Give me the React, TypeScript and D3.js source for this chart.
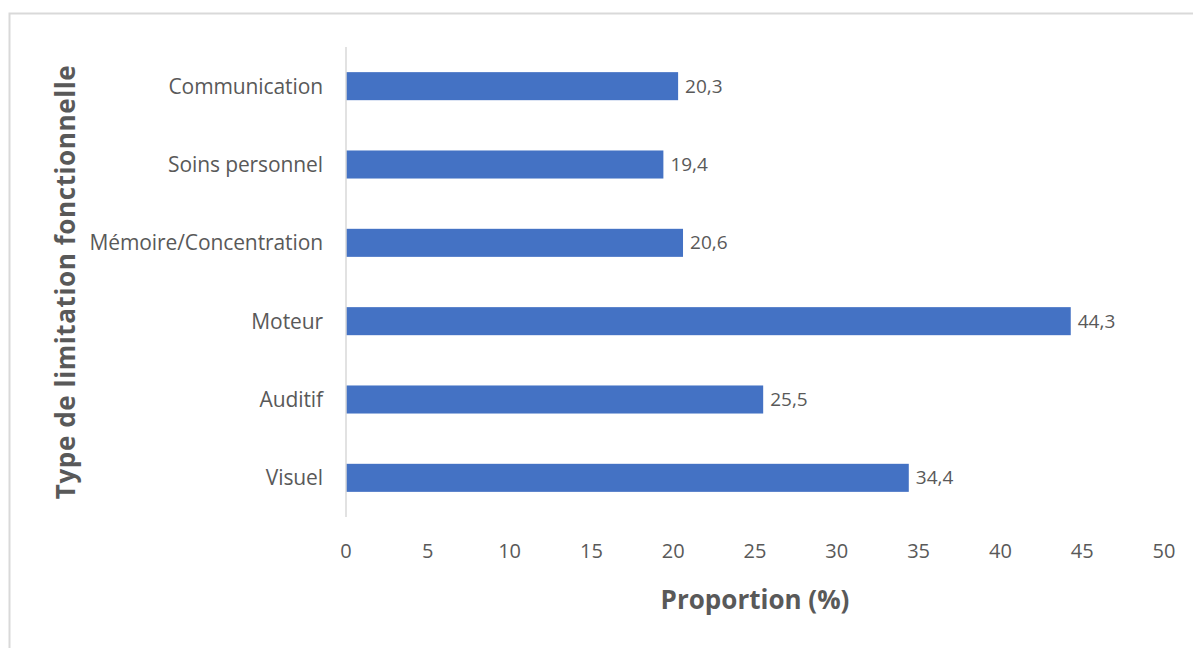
import React from "react";
import * as d3 from "d3";

const categories = ["Communication", "Soins personnel", "Mémoire/Concentration", "Moteur", "Auditif", "Visuel"];
const values = [20.3, 19.4, 20.6, 44.3, 25.5, 34.4];
const xTicks = [0, 5, 10, 15, 20, 25, 30, 35, 40, 45, 50];
const xTitle = "Proportion (%)";
const yTitle = "Type de limitation fonctionnelle";

const W = 1193;
const H = 648;
const FONT = "'Open Sans', 'Noto Sans', sans-serif";
const TEXT = "#595959";

export default function App() {
  const x = d3.scaleLinear().domain([0, 50]).range([346, 1164]);
  const y = d3.scaleBand().domain(categories).range([47, 517]).paddingInner(0.642).paddingOuter(0.321);
  const fmt = (v: number) => v.toFixed(1).replace(".", ",");
  return (
    <svg width={W} height={H} style={{ position: "absolute", left: 0, top: 0, background: "#fff" }}>
      <rect x={9.5} y={13.5} width={W} height={H} fill="#fff" stroke="#d9d9d9" strokeWidth={2} />
      {categories.map((c, i) => (
        <g key={c}>
          <rect x={x(0)} y={y(c)!} width={x(values[i]) - x(0)} height={y.bandwidth()} fill="#4472C4" />
          <text x={x(values[i]) + 7} y={y(c)! + y.bandwidth() / 2} dy="0.35em" fontFamily={FONT} fontSize={19} fill={TEXT}>
            {fmt(values[i])}
          </text>
          <text x={323} y={y(c)! + y.bandwidth() / 2} dy="0.35em" textAnchor="end" fontFamily={FONT} fontSize={21} fill={TEXT} letterSpacing={-0.1}>
            {c}
          </text>
        </g>
      ))}
      <line x1={x(0)} x2={x(0)} y1={47} y2={517} stroke="#d9d9d9" strokeWidth={1.5} />
      {xTicks.map((t) => (
        <text key={t} x={x(t)} y={551} dy="0.35em" textAnchor="middle" fontFamily={FONT} fontSize={20} fill={TEXT}>
          {t}
        </text>
      ))}
      <text x={755} y={600} dy="0.35em" textAnchor="middle" fontFamily={FONT} fontSize={26} fontWeight="bold" fill={TEXT}>
        {xTitle}
      </text>
      <text transform="translate(66,282) rotate(-90)" dy="0.35em" textAnchor="middle" fontFamily={FONT} fontSize={26} fontWeight="bold" fill={TEXT} letterSpacing={0.6}>
        {yTitle}
      </text>
    </svg>
  );
}
